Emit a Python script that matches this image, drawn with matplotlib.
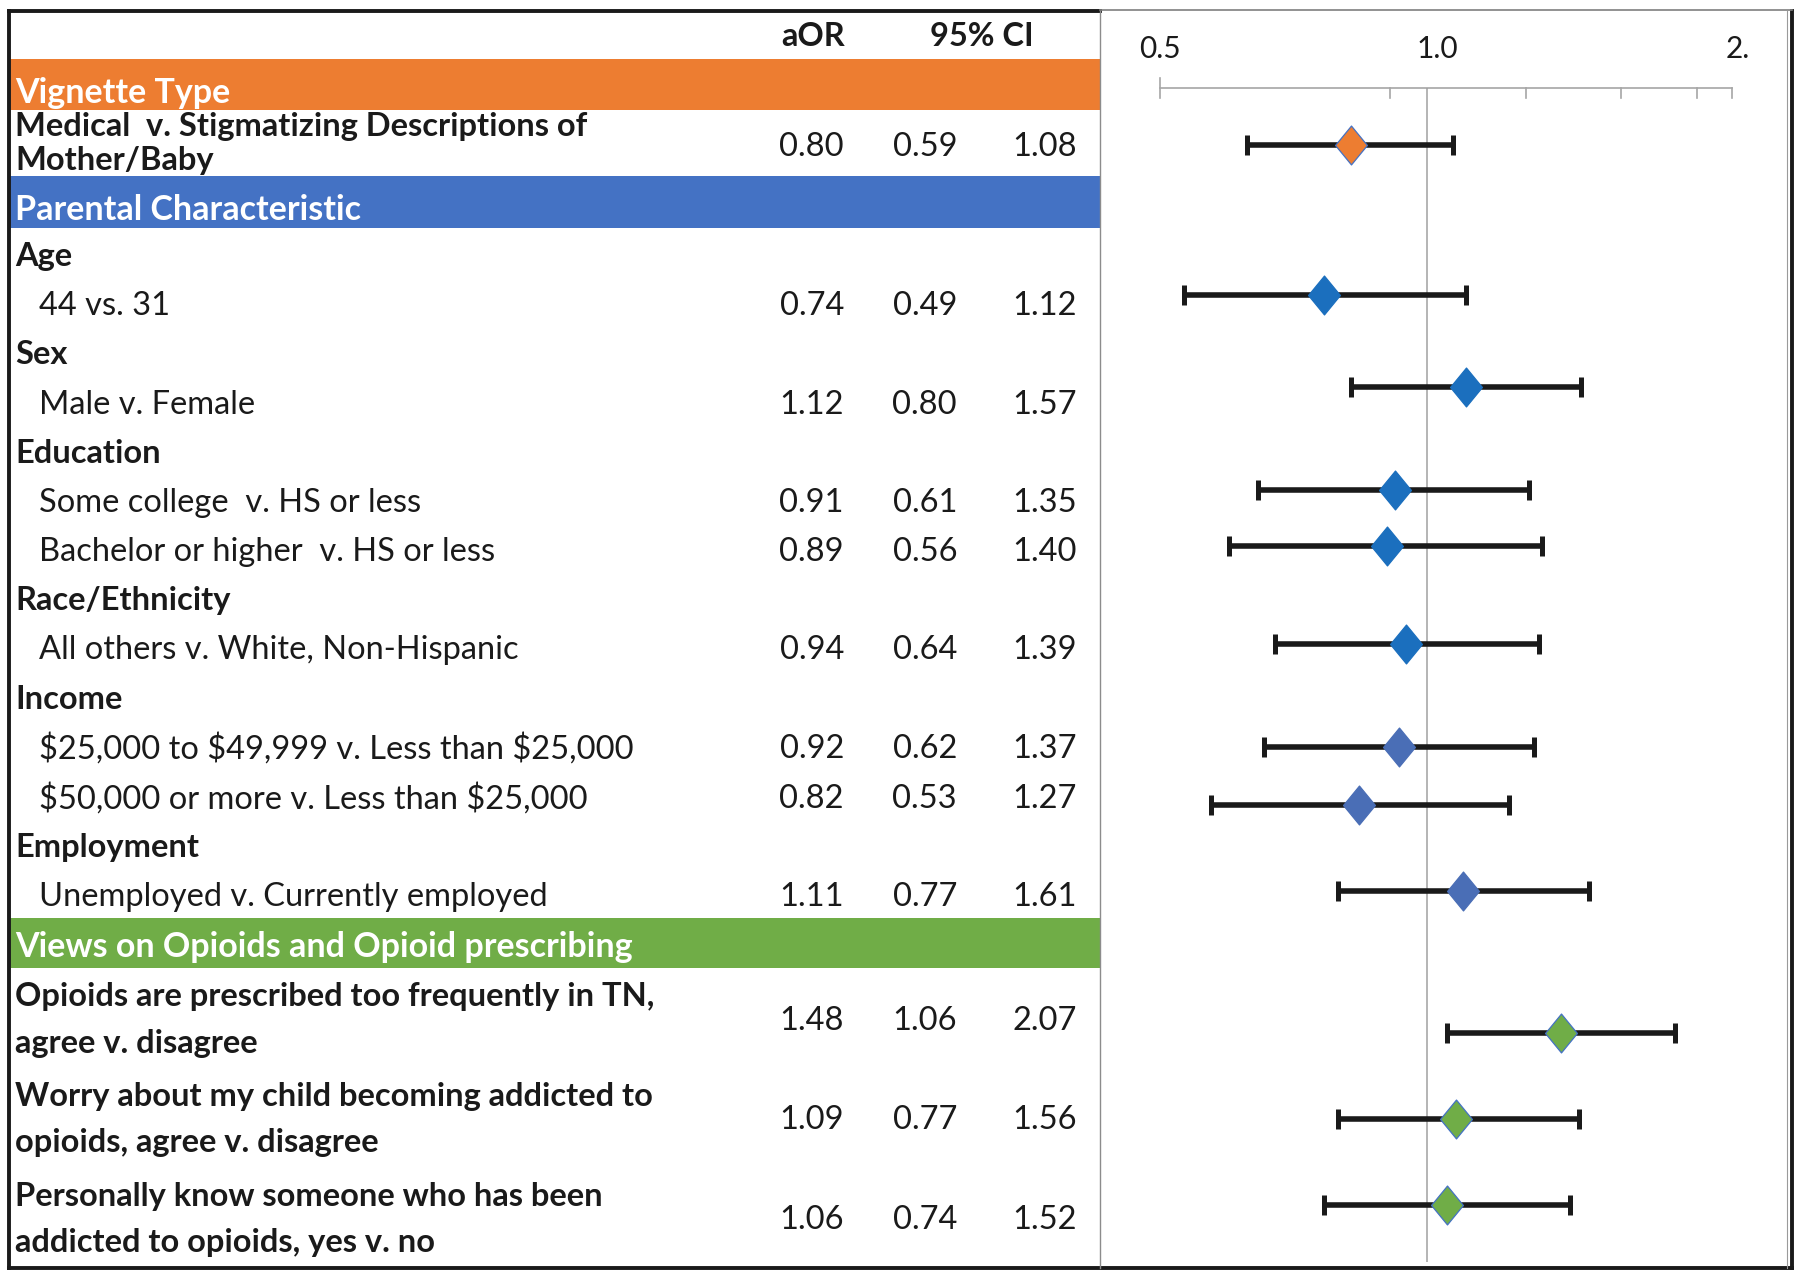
import numpy as np
import matplotlib
matplotlib.use("Agg")
import matplotlib.pyplot as plt
from matplotlib.path import Path

plt.rcParams['font.family'] = ['Lato', 'DejaVu Sans']

# ---------------- data ----------------
sections = ["Vignette Type", "Parental Characteristic",
            "Views on Opioids and Opioid prescribing"]
section_colors = ["#ED7D31", "#4472C4", "#70AD47"]
group_headers = ["Age", "Sex", "Education", "Race/Ethnicity", "Income", "Employment"]
comparisons = [
    "Medical  v. Stigmatizing Descriptions of\nMother/Baby",
    "44 vs. 31",
    "Male v. Female",
    "Some college  v. HS or less",
    "Bachelor or higher  v. HS or less",
    "All others v. White, Non-Hispanic",
    "$25,000 to $49,999 v. Less than $25,000",
    "$50,000 or more v. Less than $25,000",
    "Unemployed v. Currently employed",
    "Opioids are prescribed too frequently in TN,\nagree v. disagree",
    "Worry about my child becoming addicted to\nopioids, agree v. disagree",
    "Personally know someone who has been\naddicted to opioids, yes v. no",
]
comparison_bold = [True, False, False, False, False, False, False, False, False,
                   True, True, True]
aor = [0.80, 0.74, 1.12, 0.91, 0.89, 0.94, 0.92, 0.82, 1.11, 1.48, 1.09, 1.06]
ci_low = [0.59, 0.49, 0.80, 0.61, 0.56, 0.64, 0.62, 0.53, 0.77, 1.06, 0.77, 0.74]
ci_high = [1.08, 1.12, 1.57, 1.35, 1.40, 1.39, 1.37, 1.27, 1.61, 2.07, 1.56, 1.52]
marker_colors = (["#ED7D31"] + ["#1B6FBE"] * 5 + ["#4A6EB6"] * 3 + ["#70AD47"] * 3)
marker_edges = (["#4472C4"] + ["#1B6FBE"] * 5 + ["#4A6EB6"] * 3 + ["#4472C4"] * 3)
col_headers = ["aOR", "95% CI"]
axis_labels = ["0.5", "1.0", "2."]

# ---------------- layout (pixels) ----------------
W, H = 1800, 1277
section_band = [(58.5, 110), (176, 228), (918, 968)]
section_text_y = [90, 207, 944]
header_y = [254, 352, 451, 598, 697, 845]
comp_y = [141, 303, 402, 500.5, 549, 647, 746, 795.5, 894, 1017.5, 1117, 1217]
comp_num_y = [143.5, 303, 402, 500.5, 549, 647, 746, 795.5, 894, 1017.5, 1117, 1217]
line_gap = [34, 0, 0, 0, 0, 0, 0, 0, 0, 47, 46, 46]
forest_y = [145, 295, 387, 490, 546, 644, 747, 805, 891, 1033, 1119, 1205]
x_head, x_indent = 15, 39
num_right_x = [844, 957, 1077]
col_header_x = [813, 982]
col_header_y = 34
divider_x = 1100
right_x = 1792
top_y, bottom_y = 11, 1268
left_x = 9
px_one = 1427.0        # pixel of OR = 1.0
px_per_ln = 341.0      # pixels per natural-log unit
axis_y = 88
axis_x0, axis_x1 = 1160, 1732
axis_minor_px = [1390, 1526, 1621, 1697]
axis_label_px = [1160, 1437, 1738]
axis_label_y = 46
ref_bottom = 1262

FS = 23.5
FS_BAND = 24.5
fig = plt.figure(figsize=(W / 100, H / 100), dpi=100)
fig.patch.set_facecolor("white")

# table / decoration axes in pixel coordinates
ax = fig.add_axes([0, 0, 1, 1])
ax.set_xlim(0, W)
ax.set_ylim(H, 0)
ax.axis("off")

# section bands
for (y0, y1), col, title, ty in zip(section_band, section_colors, sections, section_text_y):
    ax.add_patch(plt.Rectangle((left_x, y0), divider_x - left_x, y1 - y0,
                               facecolor=col, edgecolor="none", zorder=1))
    ax.text(x_head, ty, title, color="white", fontsize=FS_BAND, fontweight="bold",
            va="center_baseline", ha="left", zorder=3)

# column headers
for lab, cx in zip(col_headers, col_header_x):
    ax.text(cx, col_header_y, lab, fontsize=FS, fontweight="bold", ha="center",
            va="center_baseline", color="#1a1a1a")

# group headers
for g, gy in zip(group_headers, header_y):
    ax.text(x_head, gy, g, fontsize=FS, fontweight="bold", ha="left",
            va="center_baseline", color="#1a1a1a")

# comparison rows
for i, lab in enumerate(comparisons):
    lines = lab.split("\n")
    n = len(lines)
    bold = comparison_bold[i]
    x0 = x_head if bold else x_indent
    for k, ln in enumerate(lines):
        yy = comp_y[i] + (k - (n - 1) / 2) * line_gap[i]
        ax.text(x0, yy, ln, fontsize=FS, fontweight="bold" if bold else "normal",
                ha="left", va="center_baseline", color="#1a1a1a", parse_math=False)
    for val, rx in zip([aor[i], ci_low[i], ci_high[i]], num_right_x):
        ax.text(rx, comp_num_y[i], f"{val:.2f}", fontsize=FS, ha="right",
                va="center_baseline", color="#1a1a1a")

# borders
blk = dict(color="#1a1a1a", lw=2.8, solid_capstyle="projecting", zorder=5)
ax.plot([left_x, left_x], [top_y, bottom_y], **blk)
ax.plot([left_x, right_x], [bottom_y, bottom_y], **blk)
ax.plot([right_x, right_x], [top_y, bottom_y], **blk)
ax.plot([left_x, divider_x], [top_y, top_y], **blk)
ax.plot([divider_x, right_x], [top_y - 1, top_y - 1], color="#7f7f7f", lw=1.2, zorder=5)
ax.plot([divider_x, divider_x], [top_y, bottom_y], color="#8c8c8c", lw=1.0, zorder=5)
ax.plot([right_x - 5, right_x - 5], [top_y, bottom_y], color="#9a9a9a", lw=0.8, zorder=5)

# forest axis decoration
gc = "#a6a6a6"
ax.plot([axis_x0, axis_x1], [axis_y, axis_y], color=gc, lw=1.2)
ax.plot([axis_x0, axis_x0], [axis_y - 10, axis_y + 10], color=gc, lw=1.2)
for tx in axis_minor_px + [axis_x1]:
    ax.plot([tx, tx], [axis_y, axis_y + 10], color=gc, lw=1.2)
for lab, lx in zip(axis_labels, axis_label_px):
    ax.text(lx, axis_label_y, lab, fontsize=21.5, ha="center", va="center_baseline",
            color="#1a1a1a")

# forest plot axes (log scale)
fx0, fx1 = divider_x + 1, right_x - 6
axf = fig.add_axes([fx0 / W, 0, (fx1 - fx0) / W, 1])
axf.set_xscale("log")
axf.set_xlim(np.exp((fx0 - px_one) / px_per_ln), np.exp((fx1 - px_one) / px_per_ln))
axf.set_ylim(H, 0)
axf.axis("off")
axf.patch.set_alpha(0)

axf.vlines(1.0, axis_y, ref_bottom, color="#a0a0a0", lw=1.1, zorder=1)

aor_a = np.array(aor)
err = [aor_a - np.array(ci_low), np.array(ci_high) - aor_a]
axf.errorbar(aor, forest_y, xerr=err, fmt="none", ecolor="#1a1a1a",
             elinewidth=4.0, capsize=7, capthick=3.6, zorder=2)

diamond = Path([(0, 1), (0.82, 0), (0, -1), (-0.82, 0), (0, 1)],
               [Path.MOVETO, Path.LINETO, Path.LINETO, Path.LINETO, Path.CLOSEPOLY])
for x, y, fc, ec in zip(aor, forest_y, marker_colors, marker_edges):
    axf.plot([x], [y], marker=diamond, markersize=28, markerfacecolor=fc,
             markeredgecolor=ec, markeredgewidth=0.9, linestyle="none", zorder=3)

fig.savefig("out.png", dpi=100, facecolor="white")
